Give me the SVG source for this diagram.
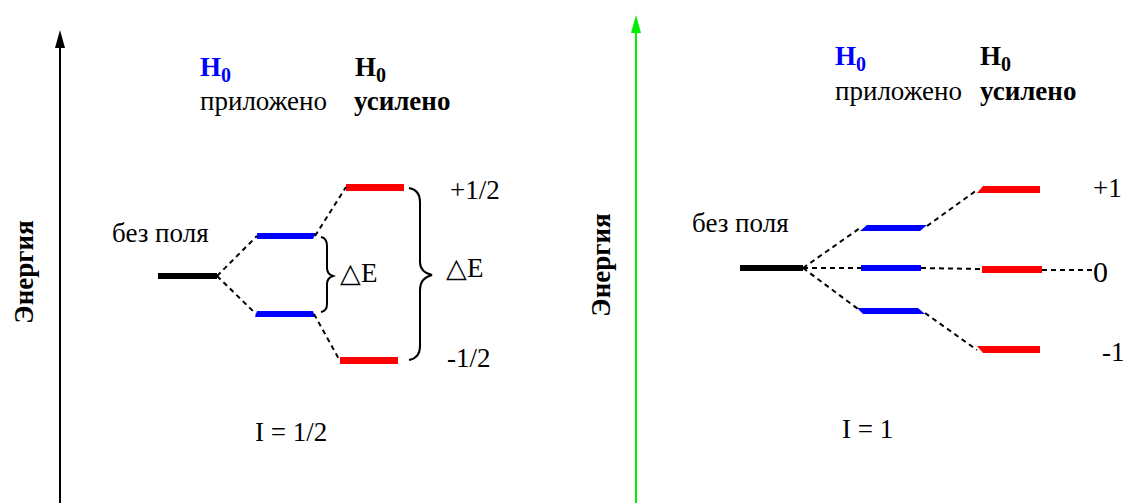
<svg xmlns="http://www.w3.org/2000/svg" width="1125" height="503" viewBox="0 0 1125 503">
<style>
.lbl{font-family:'Liberation Serif',serif;font-size:27px;fill:#000}
.bld{font-weight:bold}
.sub{font-size:20px;font-weight:bold}
.dash{stroke:#000;stroke-width:2;stroke-dasharray:5 4;fill:none}
.brace{stroke:#000;stroke-width:2;fill:none}
.blk{fill:#000}.blu{fill:#0000ff}.red{fill:#ff0000}
</style>
<defs>
<polygon id="head" points="0,0 -5,18 5,18"/>
</defs>
<rect width="1125" height="503" fill="#fff"/>
<g id="axis-left">
<line x1="60" y1="46" x2="60" y2="503" stroke="#000" stroke-width="2"/>
<use href="#head" x="60" y="30" fill="#000"/>
<text class="lbl bld" x="33" y="272" text-anchor="middle" transform="rotate(-90 33 272)">Энергия</text>
</g>
<g id="headers-left">
<text class="lbl bld" style="fill:#0000ff" x="200" y="76">H<tspan class="sub" dy="6">0</tspan></text>
<text class="lbl" x="200" y="110">приложено</text>
<text class="lbl bld" x="355" y="76">H<tspan class="sub" dy="6">0</tspan></text>
<text class="lbl bld" x="354" y="110">усилено</text>
</g>
<g id="level-zero-left">
<rect class="blk" x="158" y="273" width="59" height="6"/>
<text class="lbl" x="112" y="242">без поля</text>
</g>
<g id="blue-left">
<polygon class="blu" points="257,233 316,233 313,239 257,239"/>
<polygon class="blu" points="257,311 313,311 315,317 255,317"/>
</g>
<g id="red-left">
<rect class="red" x="346" y="184" width="58" height="7"/>
<rect class="red" x="340" y="357" width="58" height="7"/>
<text class="lbl" x="450" y="199">+1/2</text>
<text class="lbl" x="447" y="367">-1/2</text>
</g>
<g id="delta-left">
<path class="brace" d="M321,237 Q327,238 327,246 L327,268 Q327,274 333,276 Q327,278 327,284 L327,304 Q327,311 321,312"/>
<text class="lbl" x="340" y="282">△E</text>
<path class="brace" d="M409,188 Q420,190 420,202 L420,262 Q420,272 432,275 Q420,278 420,290 L420,346 Q420,358 409,360"/>
<text class="lbl" x="446" y="277">△E</text>
</g>
<g id="spin-left">
<text class="lbl" x="255" y="441">I = 1/2</text>
</g>
<g id="axis-right">
<line x1="636" y1="30" x2="636" y2="503" stroke="#00ee00" stroke-width="2"/>
<use href="#head" x="636" y="15" fill="#00ee00"/>
<text class="lbl bld" x="610" y="265" text-anchor="middle" transform="rotate(-90 610 265)">Энергия</text>
</g>
<g id="headers-right">
<text class="lbl bld" style="fill:#0000ff" x="835" y="65">H<tspan class="sub" dy="6">0</tspan></text>
<text class="lbl" x="835" y="100">приложено</text>
<text class="lbl bld" x="980" y="65">H<tspan class="sub" dy="6">0</tspan></text>
<text class="lbl bld" x="980" y="100">усилено</text>
</g>
<g id="level-zero-right">
<rect class="blk" x="740" y="265" width="63" height="6"/>
<text class="lbl" x="692" y="232">без поля</text>
</g>
<g id="blue-right">
<polygon class="blu" points="867,225 927,225 920,231 860,231"/>
<rect class="blu" x="861" y="265" width="60" height="6"/>
<polygon class="blu" points="857,308 918,308 925,314 863,314"/>
</g>
<g id="red-right">
<polygon class="red" points="983,186 1040,186 1040,193 977,193"/>
<rect class="red" x="982" y="266" width="60" height="7"/>
<polygon class="red" points="977,346 1040,346 1040,353 983,353"/>
<text class="lbl" x="1093" y="197">+1</text>
<text class="lbl" style="font-size:30px" x="1093" y="282">0</text>
<text class="lbl" x="1102" y="361">-1</text>
</g>
<g id="spin-right">
<text class="lbl" x="842" y="438">I = 1</text>
</g>
<g id="connectors">
<line class="dash" x1="217" y1="276" x2="257" y2="236"/>
<line class="dash" x1="217" y1="276" x2="256" y2="314"/>
<line class="dash" x1="315" y1="236" x2="346" y2="187"/>
<line class="dash" x1="314" y1="314" x2="340" y2="361"/>
<line class="dash" x1="803" y1="268" x2="860" y2="228"/>
<line class="dash" x1="803" y1="268" x2="861" y2="268"/>
<line class="dash" x1="803" y1="268" x2="858" y2="309"/>
<line class="dash" x1="927" y1="226" x2="977" y2="190"/>
<line class="dash" x1="921" y1="268" x2="982" y2="269"/>
<line class="dash" x1="925" y1="313" x2="977" y2="350"/>
<line class="dash" x1="1042" y1="270" x2="1092" y2="270"/>
</g>
</svg>
